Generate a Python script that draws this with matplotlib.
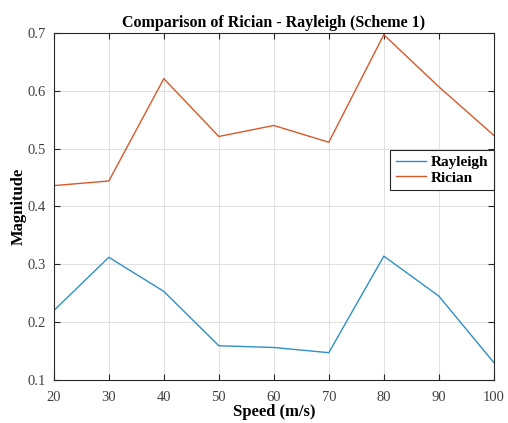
import matplotlib
matplotlib.use('Agg')
from matplotlib import pyplot as plt

speed = [20, 30, 40, 50, 60, 70, 80, 90, 100]
rayleigh = [0.220, 0.312, 0.253, 0.159, 0.156, 0.147, 0.314, 0.245, 0.130]
rician = [0.436, 0.444, 0.621, 0.521, 0.540, 0.511, 0.697, 0.607, 0.523]

plt.rcParams['font.family'] = ['Liberation Serif', 'DejaVu Serif']

fig = plt.figure(figsize=(5.08, 4.23), dpi=100)
ax = fig.add_axes([0.106, 0.102, 0.866, 0.820])

ax.plot(speed, rayleigh, color='#2f8fc8', lw=1.0, label='Rayleigh')
ax.plot(speed, rician, color='#d9582a', lw=1.0, label='Rician')

ax.set_xlim(20, 100)
ax.set_ylim(0.1, 0.7)
ax.set_xticks(speed)
ax.set_yticks([0.1, 0.2, 0.3, 0.4, 0.5, 0.6, 0.7])
ax.grid(True, color='#e0e0e0', lw=0.7)
ax.tick_params(direction='in', top=True, right=True, labelsize=10.5,
               colors='#262626', labelcolor='#404040', length=4)
ax.tick_params(axis='x', pad=8)
ax.tick_params(axis='y', pad=6)
for s in ax.spines.values():
    s.set_color('#262626')
    s.set_linewidth(0.8)

ax.set_title('Comparison of Rician - Rayleigh (Scheme 1)', fontsize=11.5,
             fontweight='bold', pad=4)
ax.set_xlabel('Speed (m/s)', fontsize=12, fontweight='bold', labelpad=0)
ax.set_ylabel('Magnitude', fontsize=12, fontweight='bold')
ax.yaxis.set_label_coords(-0.062, 0.5)

leg = ax.legend(loc='center right', bbox_to_anchor=(1.0, 0.605),
                prop={'weight': 'bold', 'size': 11}, fancybox=False,
                framealpha=1, edgecolor='#262626', handlelength=2.0,
                borderpad=0.35, labelspacing=0.15, handletextpad=0.3,
                borderaxespad=0.0)
leg.get_frame().set_linewidth(0.8)

fig.savefig('out.png', dpi=100)
